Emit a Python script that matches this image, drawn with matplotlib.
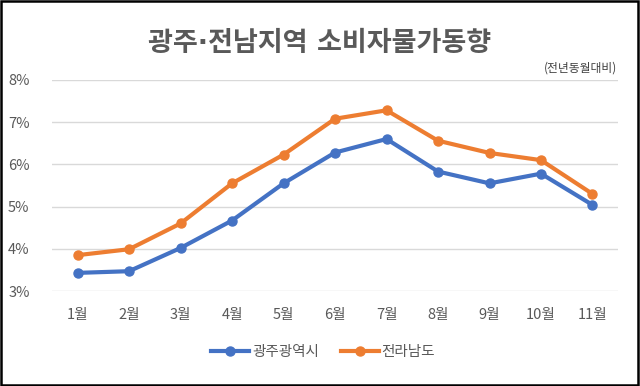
import matplotlib.pyplot as plt
from matplotlib.patches import Rectangle

plt.rcParams['font.family'] = ['Noto Sans CJK KR', 'DejaVu Sans']

# 데이터
months = ['1월', '2월', '3월', '4월', '5월', '6월', '7월', '8월', '9월', '10월', '11월']
gwangju = [3.43, 3.47, 4.02, 4.67, 5.55, 6.28, 6.60, 5.83, 5.55, 5.78, 5.04]
jeonnam = [3.85, 3.99, 4.60, 5.55, 6.23, 7.08, 7.28, 6.56, 6.27, 6.10, 5.30]
yticks = [3, 4, 5, 6, 7, 8]

fig = plt.figure(figsize=(6.4, 3.86), dpi=100)
ax = fig.add_axes([0.081, 0.246, 0.885, 0.547])

x = list(range(1, len(months) + 1))
ax.plot(x, gwangju, color='#4472C4', lw=3, marker='o', markersize=6.5, label='광주광역시', zorder=3)
ax.plot(x, jeonnam, color='#ED7D31', lw=3, marker='o', markersize=6.5, label='전라남도', zorder=3)

ax.set_xlim(0.5, len(months) + 0.5)
ax.set_ylim(3, 8)
ax.set_xticks(x)
ax.set_xticklabels(months)
ax.set_yticks(yticks)
ax.set_yticklabels([f'{v}%' for v in yticks])
ax.tick_params(axis='both', length=0, colors='#595959', labelsize=10.5)
ax.tick_params(axis='x', pad=12)
ax.tick_params(axis='y', pad=16)
ax.grid(axis='y', color='#D9D9D9', lw=1)
ax.set_axisbelow(True)
for s in ax.spines.values():
    s.set_visible(False)

# 가운뎃점은 DejaVu에서, 한글은 Noto에서
fig.text(0.5, 0.885, '광주·전남지역 소비자물가동향', ha='center', va='center',
         fontsize=19.5, fontweight='bold', color='#595959',
         family=['DejaVu Sans', 'Noto Sans CJK KR'])
fig.text(0.965, 0.823, '(전년동월대비)', ha='right', va='center', fontsize=8.5, color='#404040')

fig.legend(loc='center', bbox_to_anchor=(0.505, 0.088), ncol=2, frameon=False,
           fontsize=10.5, handlelength=2.6, columnspacing=1.5, handletextpad=0.2,
           labelcolor='#595959')

fig.patches.append(Rectangle((0.002, 0.003), 0.995, 0.994, transform=fig.transFigure,
                             fill=False, edgecolor='black', lw=1.8))

fig.savefig('out.png', dpi=100)
